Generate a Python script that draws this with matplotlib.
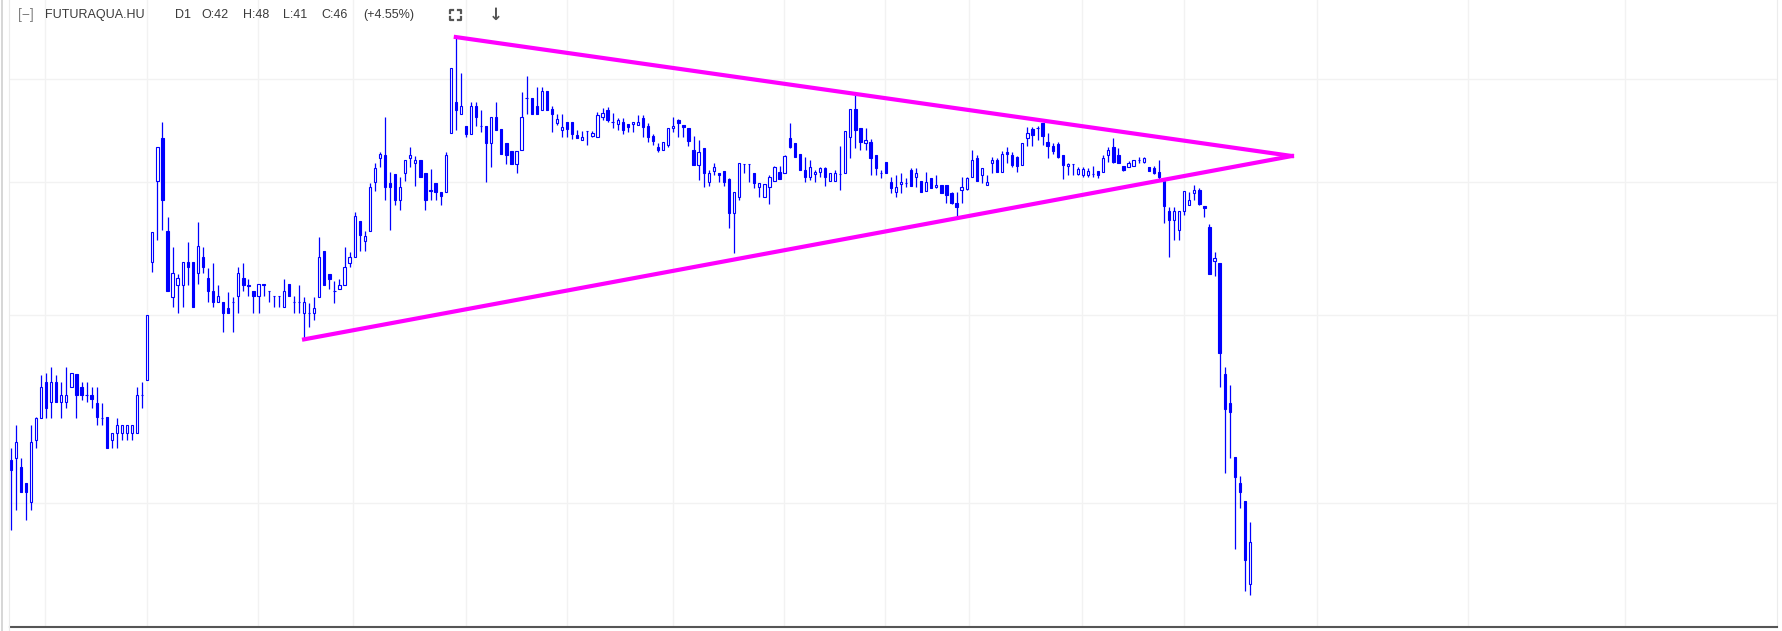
import numpy as np
import matplotlib
matplotlib.use("Agg")
import matplotlib.pyplot as plt
from matplotlib.lines import Line2D

# daily bars, oldest first (HUF)
opens = [54.9, 55.1, 54.0, 52.2, 50.1, 57.3, 60.1, 64.9, 62.2, 64.9,
         62.2, 62.2, 64.2, 66.1, 64.2, 63.1, 63.1, 62.1, 60.1, 60.2,
         57.3, 58.2, 58.2, 58.2, 58.2, 58.2, 63.1, 65.2, 84.2, 100.2,
         110.0, 90.0, 78.0, 80.1, 80.1, 84.2, 84.2, 82.2, 85.1, 81.3,
         79.0, 77.2, 77.2, 76.2, 77.2, 78.2, 81.3, 80.1, 79.0, 78.2,
         80.3, 79.0, 78.2, 78.2, 76.4, 80.3, 77.2, 77.2, 75.4, 75.4,
         75.4, 78.0, 86.2, 82.0, 79.0, 79.4, 80.1, 84.0, 85.1, 92.0,
         88.1, 90.0, 100.0, 105.4, 106.0, 99.8, 101.8, 96.2, 102.0, 105.4,
         104.2, 104.9, 102.0, 98.3, 99.8, 97.9, 97.9, 111.2, 118.9, 115.9,
         112.9, 111.0, 117.9, 112.9, 112.9, 108.8, 115.1, 112.2, 108.8, 107.0,
         104.0, 107.2, 119.9, 119.9, 117.9, 116.9, 121.8, 117.1, 113.6, 111.9,
         113.9, 113.9, 110.7, 109.5, 111.7, 110.5, 110.2, 115.1, 116.9, 113.9,
         113.4, 113.9, 113.4, 113.4, 113.1, 114.9, 112.9, 110.5, 107.9, 107.2,
         108.4, 112.4, 114.4, 113.1, 112.4, 107.2, 103.8, 107.7, 100.0, 102.5,
         102.0, 102.5, 100.7, 93.6, 96.9, 104.0, 104.0, 102.0, 99.0, 96.9,
         99.0, 100.3, 102.2, 102.0, 110.0, 108.8, 106.3, 102.7, 101.1, 101.8,
         102.2, 103.1, 100.3, 100.3, 101.8, 102.0, 110.2, 117.1, 112.4, 108.8,
         109.1, 106.0, 102.0, 104.5, 100.0, 97.9, 99.6, 99.8, 102.7, 101.1,
         100.3, 98.1, 100.9, 99.0, 99.4, 99.4, 97.7, 95.6, 98.3, 98.5,
         101.1, 105.4, 101.6, 99.4, 104.2, 104.9, 102.2, 106.7, 106.0, 105.6,
         103.8, 110.0, 112.2, 112.4, 113.6, 109.1, 108.1, 108.6, 106.0, 103.6,
         104.0, 101.8, 101.6, 101.6, 101.8, 102.5, 102.2, 106.0, 107.9, 106.0,
         103.6, 103.3, 103.6, 104.9, 104.5, 103.3, 103.1, 102.2, 100.3, 94.0,
         92.2, 90.2, 94.0, 95.2, 97.7, 98.3, 95.0, 90.8, 84.3, 84.0,
         66.1, 62.1, 55.2, 52.2, 50.2, 42.0]
highs = [56.3, 59.2, 55.1, 52.2, 59.2, 60.2, 65.9, 66.2, 67.1, 65.9,
         64.9, 67.1, 66.2, 66.1, 64.9, 64.9, 64.2, 64.2, 62.1, 60.2,
         58.2, 60.1, 59.2, 59.2, 59.2, 64.2, 64.9, 75.1, 89.8, 107.9,
         113.9, 92.7, 86.9, 82.0, 84.2, 87.9, 84.2, 91.8, 86.9, 83.1,
         84.0, 80.1, 77.2, 78.9, 78.0, 83.3, 84.0, 81.1, 79.0, 80.3,
         80.3, 79.0, 78.2, 78.2, 81.1, 80.3, 78.2, 80.1, 78.0, 77.0,
         78.0, 88.8, 86.2, 82.0, 80.8, 81.1, 86.9, 86.0, 93.8, 92.0,
         90.0, 99.8, 104.2, 106.7, 115.1, 102.2, 101.8, 101.1, 104.9, 107.9,
         105.8, 104.9, 102.0, 102.9, 99.8, 97.9, 106.7, 128.0, 136.8, 126.6,
         112.9, 118.9, 118.9, 116.9, 112.9, 115.1, 118.9, 112.2, 108.8, 107.0,
         107.0, 121.5, 125.8, 119.9, 122.8, 122.8, 121.8, 117.9, 115.9, 115.9,
         113.9, 113.9, 111.9, 111.7, 111.7, 111.7, 116.4, 117.4, 117.6, 116.1,
         114.9, 114.9, 113.4, 113.9, 115.6, 115.6, 113.6, 111.0, 108.8, 109.1,
         112.4, 115.1, 114.6, 113.1, 112.4, 110.5, 109.5, 107.7, 102.7, 104.2,
         102.0, 102.5, 100.9, 97.9, 104.2, 104.0, 104.0, 102.0, 99.8, 99.6,
         101.6, 103.6, 103.6, 106.0, 113.6, 108.8, 106.3, 105.6, 104.9, 102.7,
         103.3, 103.3, 102.0, 102.7, 108.1, 111.7, 117.1, 120.7, 112.4, 112.4,
         109.8, 106.0, 102.7, 104.5, 101.1, 101.6, 102.0, 100.9, 103.1, 103.1,
         100.3, 102.2, 100.9, 101.6, 99.4, 99.4, 97.9, 97.9, 101.1, 101.1,
         107.2, 106.0, 103.1, 101.6, 105.6, 105.4, 107.0, 107.9, 106.7, 105.8,
         108.8, 112.6, 112.6, 112.9, 113.6, 111.2, 108.8, 109.1, 106.0, 104.2,
         104.0, 103.3, 103.3, 103.1, 103.6, 102.5, 106.0, 107.9, 110.0, 107.7,
         103.6, 104.7, 104.9, 105.6, 105.6, 103.3, 103.6, 104.9, 100.9, 94.8,
         94.8, 94.0, 98.1, 97.9, 99.4, 98.7, 95.0, 91.4, 86.0, 84.0,
         67.1, 64.5, 55.2, 53.0, 50.2, 48.0]
lows = [47.2, 49.2, 51.2, 48.2, 49.3, 56.3, 60.1, 60.1, 60.1, 62.2,
        60.1, 61.4, 64.2, 60.1, 62.5, 62.2, 61.4, 59.2, 59.2, 56.3,
        56.3, 56.3, 57.3, 57.3, 57.3, 58.2, 61.4, 65.2, 82.4, 88.3,
        90.2, 79.0, 76.4, 75.4, 76.4, 80.1, 76.4, 80.3, 82.2, 77.2,
        76.4, 77.2, 72.4, 75.4, 72.4, 75.4, 79.0, 78.2, 75.4, 75.4,
        78.2, 77.2, 76.4, 76.4, 76.4, 78.2, 75.4, 75.4, 71.2, 73.1,
        74.2, 78.0, 80.1, 79.4, 77.0, 79.4, 80.1, 83.3, 85.1, 86.2,
        86.2, 90.0, 98.1, 103.3, 96.2, 90.2, 95.2, 94.2, 100.2, 103.3,
        99.2, 101.1, 94.2, 96.2, 96.2, 95.2, 97.9, 111.2, 111.9, 115.9,
        110.2, 111.0, 112.9, 111.4, 100.0, 103.3, 111.9, 106.3, 104.0, 104.0,
        102.0, 107.2, 115.9, 115.9, 115.9, 116.9, 116.9, 111.4, 113.1, 110.2,
        110.2, 109.8, 110.0, 109.5, 108.4, 110.2, 110.2, 114.4, 113.9, 112.4,
        111.9, 111.0, 111.4, 111.4, 113.1, 110.2, 109.1, 108.4, 106.7, 107.2,
        107.9, 111.4, 110.2, 110.2, 108.1, 103.8, 100.5, 99.0, 99.2, 101.6,
        100.0, 99.2, 90.6, 85.8, 96.2, 102.0, 100.0, 98.7, 96.9, 96.9,
        95.4, 100.3, 100.7, 102.0, 107.7, 105.6, 102.7, 100.0, 100.5, 100.0,
        101.1, 99.2, 100.3, 100.3, 98.3, 102.0, 105.4, 107.7, 107.2, 107.2,
        101.6, 101.6, 100.9, 102.0, 97.7, 96.9, 97.7, 99.0, 99.2, 99.0,
        97.9, 98.1, 98.7, 98.7, 97.7, 95.6, 95.4, 92.7, 95.6, 98.3,
        101.1, 100.3, 99.8, 99.4, 102.0, 102.2, 102.2, 104.2, 103.3, 102.2,
        103.8, 108.1, 108.1, 109.5, 108.4, 105.4, 106.3, 105.4, 100.7, 101.6,
        101.6, 101.6, 101.1, 101.1, 101.1, 100.9, 102.2, 104.5, 104.2, 104.2,
        102.5, 103.3, 103.6, 104.2, 104.2, 102.5, 101.8, 100.5, 91.6, 85.1,
        88.3, 88.3, 93.2, 95.2, 96.2, 95.2, 92.7, 82.0, 81.7, 64.2,
        53.4, 55.1, 45.3, 49.5, 41.3, 41.0]
closes = [53.7, 57.0, 51.2, 51.2, 57.0, 60.1, 64.2, 61.4, 64.9, 62.2,
          63.1, 63.1, 66.2, 63.1, 63.1, 63.1, 62.6, 60.2, 60.1, 56.3,
          58.2, 59.2, 59.2, 59.2, 59.2, 63.1, 63.1, 75.1, 89.8, 107.9,
          96.2, 79.0, 82.2, 81.3, 84.2, 83.3, 76.4, 87.1, 83.3, 79.0,
          77.2, 78.2, 75.4, 75.4, 77.2, 82.2, 80.1, 79.9, 78.2, 80.3,
          80.1, 79.0, 78.2, 78.2, 79.0, 78.2, 77.2, 77.2, 77.2, 75.4,
          76.2, 85.1, 80.1, 81.1, 79.0, 80.1, 83.3, 85.1, 93.0, 89.2,
          89.0, 99.0, 103.1, 106.3, 99.0, 99.0, 96.2, 99.0, 104.9, 106.0,
          104.9, 101.1, 96.2, 98.0, 97.9, 97.1, 106.0, 128.0, 116.9, 117.9,
          111.0, 117.9, 115.1, 112.9, 108.8, 115.1, 111.9, 106.3, 106.0, 104.0,
          107.0, 115.1, 119.9, 115.9, 115.9, 121.8, 116.9, 115.9, 114.6, 112.6,
          112.2, 111.0, 110.0, 110.2, 111.7, 111.2, 115.6, 116.1, 114.4, 113.9,
          114.4, 111.9, 112.6, 113.9, 113.9, 112.6, 110.2, 109.3, 107.2, 109.1,
          112.4, 112.9, 113.6, 112.6, 109.3, 103.8, 106.7, 102.0, 102.0, 103.3,
          101.6, 100.0, 93.6, 97.9, 104.2, 104.0, 104.0, 99.8, 99.8, 99.6,
          101.1, 103.3, 100.7, 105.8, 107.9, 105.6, 102.7, 101.1, 103.3, 102.2,
          103.1, 101.1, 102.0, 102.0, 101.8, 111.7, 117.1, 111.9, 109.1, 109.5,
          105.4, 103.1, 102.0, 102.0, 98.7, 99.0, 100.0, 99.8, 99.2, 102.0,
          97.9, 100.0, 98.7, 99.4, 97.7, 97.3, 95.6, 94.8, 99.0, 100.9,
          104.9, 100.3, 103.1, 100.0, 104.9, 102.2, 106.3, 106.3, 103.8, 103.6,
          108.8, 111.2, 110.7, 112.4, 110.5, 108.1, 107.0, 105.6, 103.8, 104.0,
          104.0, 102.9, 102.9, 102.5, 101.8, 101.6, 105.4, 107.2, 104.5, 104.2,
          102.7, 104.2, 104.9, 104.9, 105.4, 102.5, 102.0, 101.1, 95.0, 92.2,
          94.0, 94.0, 98.1, 96.2, 98.3, 95.4, 94.6, 82.0, 84.9, 69.1,
          61.3, 60.9, 52.9, 51.2, 44.2, 46.0]

# drawn trend lines: (bar index, price) of each end
upper_x = [88, 253.3]
upper_y = [136.8, 105.8]
lower_x = [58, 253.3]
lower_y = [71.2, 105.8]

grid_prices = [50, 75, 100, 125]
grid_bars = [6.8, 27, 48.9, 67.7, 90, 110, 131, 152.9, 172.9, 189.5,
             211.8, 232, 258.3, 288.1, 319.2]

header_items = ["FUTURAQUA.HU", "D1", "O:42", "H:48", "L:41", "C:46", "(+4.55%)"]
header_px = [45.5, 175, 201.5, 243, 283.5, 321, 363]

W, H = 1782, 631
fig = plt.figure(figsize=(W / 100, H / 100), dpi=100)
ax = fig.add_axes([10 / W, 4 / H, 1767 / W, 627 / H])
ax.set_yscale("log")
ax.set_xlim(-0.14, 349.2)
ax.set_ylim(38.25, 148.2)

for p in grid_prices:
    ax.axhline(p, color="#f2f2f2", lw=1.0, zorder=0)
for b in grid_bars:
    ax.axvline(b, color="#f2f2f2", lw=1.0, zorder=0)

o = np.array(opens)
c = np.array(closes)
x = np.arange(len(o))
blue = "#0000ff"
ax.vlines(x, lows, highs, color=blue, lw=0.9, zorder=2)
up = c >= o
ax.bar(x, np.abs(c - o), bottom=np.minimum(o, c), width=0.45,
       color=np.where(up, "white", blue), edgecolor=blue, lw=0.8, zorder=3)

ax.plot(upper_x, upper_y, color="#ff00ff", lw=3, zorder=4)
ax.plot(lower_x, lower_y, color="#ff00ff", lw=3, zorder=4)

ax.set_xticks([])
ax.set_yticks([])
ax.yaxis.set_minor_locator(matplotlib.ticker.NullLocator())
for s in ["top", "left"]:
    ax.spines[s].set_visible(False)
ax.spines["right"].set_color("#ececec")
ax.spines["right"].set_linewidth(0.8)
ax.spines["bottom"].set_color("#555555")
ax.spines["bottom"].set_linewidth(1.5)

# pane borders on the far left
fig.add_artist(Line2D([1.5 / W, 1.5 / W], [0, 1], color="#d0d0d0", lw=1.2,
                      transform=fig.transFigure))
fig.add_artist(Line2D([8.5 / W, 8.5 / W], [0, 1], color="#ebebeb", lw=0.8,
                      transform=fig.transFigure))

ty = 1 - 15 / H
fig.text(18 / W, ty, "[−]", fontsize=10, color="#808080", va="center",
         family="Liberation Sans")
for label, px in zip(header_items, header_px):
    fig.text(px / W, ty, label, fontsize=9, color="#3a3a3a", va="center",
             family="Liberation Sans")

# fullscreen icon (four corners) and download arrow
gx0, gx1, gy0, gy1 = 450, 461, 10, 20
arm = 3
for cx, cy, dx, dy in [(gx0, gy0, 1, 1), (gx1, gy0, -1, 1), (gx0, gy1, 1, -1), (gx1, gy1, -1, -1)]:
    fig.add_artist(Line2D([cx / W, cx / W, (cx + dx * arm) / W],
                          [1 - (cy + dy * arm) / H, 1 - cy / H, 1 - cy / H],
                          color="#555555", lw=1.6, transform=fig.transFigure))
fig.text(495.5 / W, ty, "↓", fontsize=12, color="#555555", va="center",
         ha="center", fontweight="bold", family="DejaVu Sans")

fig.savefig("out.png", dpi=100)
